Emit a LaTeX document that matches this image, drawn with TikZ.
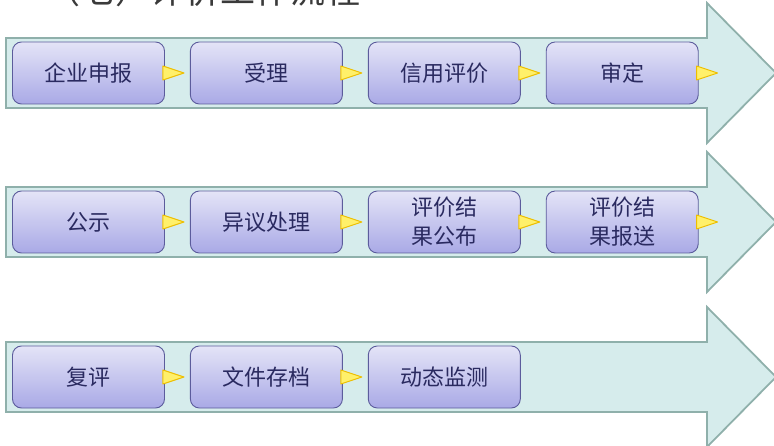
\documentclass[tikz,border=0pt]{standalone}
\usepackage{fontspec}
\newfontfamily\cjk{Noto Sans CJK SC}
\usepackage{tikz}
\usetikzlibrary{positioning}
\definecolor{bandfill}{HTML}{D6ECEC}
\definecolor{bandline}{HTML}{8FB0AB}
\definecolor{boxtop}{HTML}{E4E4F7}
\definecolor{boxbot}{HTML}{A9A9E6}
\definecolor{boxline}{HTML}{5C5C9C}
\definecolor{boxtext}{HTML}{2A2A60}
\definecolor{trifill}{HTML}{FFF06A}
\definecolor{triline}{HTML}{EDBE00}
\definecolor{titletext}{HTML}{3A3A3A}

\begin{document}
\begin{tikzpicture}[
    x=1pt, y=-1pt,
    node distance=25pt,
    mynode/.style={draw=boxline,line width=0.9pt,rounded corners=9pt,
        top color=boxtop,bottom color=boxbot,
        minimum width=152pt,minimum height=62pt,inner sep=0pt,
        align=center,text=boxtext,font=\cjk\fontsize{22}{29}\selectfont},
    band/.style={draw=bandline,fill=bandfill,line width=1.8pt,line join=miter},
    tri/.style={draw=triline,fill=trifill,line width=1pt,line join=round}
    ]

    \useasboundingbox (0,0) rectangle (774,446);
    \clip (0,0) rectangle (774,446);

    % title, cut by the top edge
    \node[anchor=base west,inner sep=0pt,text=titletext,
        font=\cjk\fontsize{35}{40}\selectfont] (t) at (45,4) {（七）评价工作流程};

    % big arrows
    \foreach \y in {73,222,377}
        \draw[band] (6,\y-35) -- (707,\y-35) -- (707,\y-70) -- (776,\y)
            -- (707,\y+70) -- (707,\y+35) -- (6,\y+35) -- cycle;

    \node[mynode] (1) at (88.5,73) {企业申报};
    \node[mynode,right=of 1] (2) {受理};
    \node[mynode,right=of 2] (3) {信用评价};
    \node[mynode,right=of 3] (4) {审定};

    \node[mynode] (5) at (88.5,222) {公示};
    \node[mynode,right=of 5] (6) {异议处理};
    \node[mynode,right=of 6] (7) {评价结\\果公布};
    \node[mynode,right=of 7] (8) {评价结\\果报送};

    \node[mynode] (9) at (88.5,377) {复评};
    \node[mynode,right=of 9] (10) {文件存档};
    \node[mynode,right=of 10] (11) {动态监测};

    \foreach \n in {1,...,10}
        \draw[tri] ([xshift=-2pt,yshift=7pt]\n.east) -- ++(21pt,-7pt)
            -- ++(-21pt,-7pt) -- cycle;

\end{tikzpicture}
\end{document}
